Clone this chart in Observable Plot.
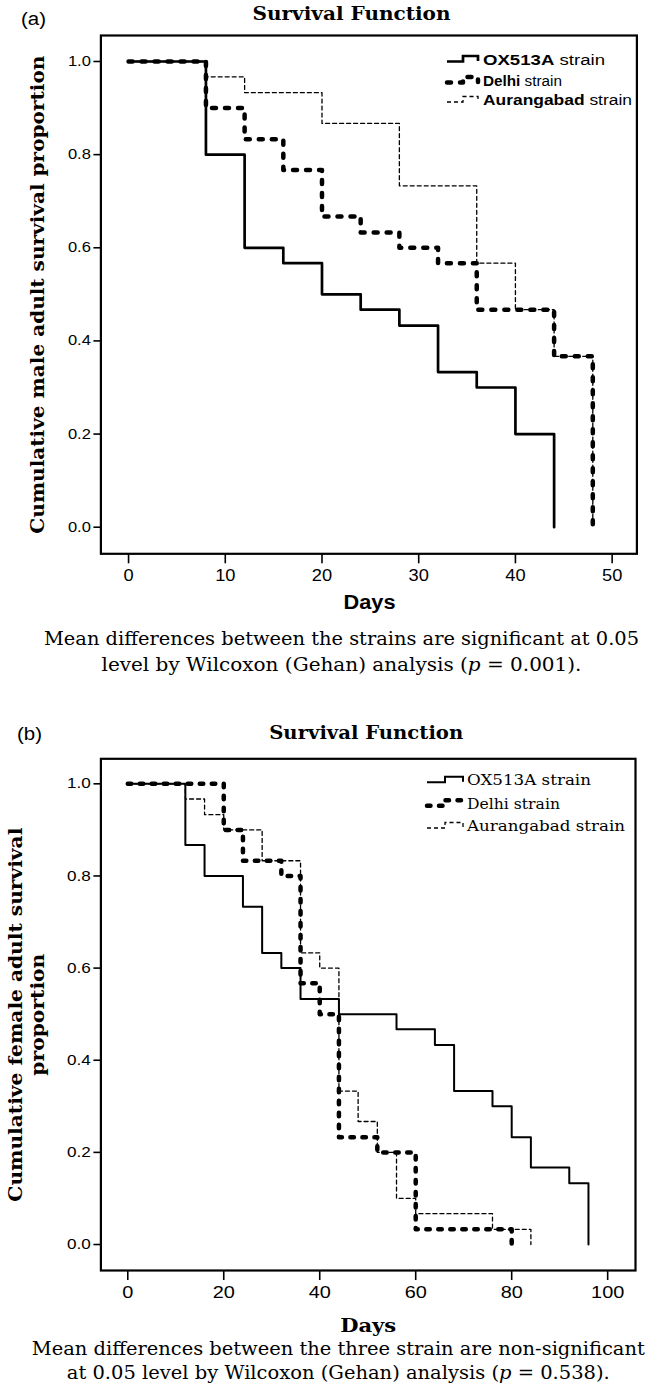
<!DOCTYPE html>
<html>
<head>
<meta charset="utf-8">
<script src="https://cdn.jsdelivr.net/npm/d3@7"></script>
<script src="https://cdn.jsdelivr.net/npm/@observablehq/plot@0.6"></script>
<style>
html, body { margin: 0; padding: 0; background: #fff; }
#chart svg { display: block; }
</style>
</head>
<body>
<div id="chart"></div>
<script>
// ---------------- data ----------------
const strains = ["OX513A", "Delhi", "Aurangabad"];
const yTicks = [0, 0.2, 0.4, 0.6, 0.8, 1.0];
const xTicksMale = [0, 10, 20, 30, 40, 50];
const xTicksFemale = [0, 20, 40, 60, 80, 100];

// (a) males: event day and survival proportion after the event
const maleOxDays   = [0, 8, 12, 16, 20, 24, 28, 32, 36, 40, 44];
const maleOxSurv   = [1, 0.8, 0.6, 0.567, 0.5, 0.467, 0.433, 0.333, 0.3, 0.2, 0];
const maleDelDays  = [0, 8, 12, 16, 20, 24, 28, 32, 36, 44, 48];
const maleDelSurv  = [1, 0.9, 0.833, 0.767, 0.667, 0.633, 0.6, 0.567, 0.467, 0.367, 0];
const maleAurDays  = [0, 8, 12, 20, 28, 36, 40, 44, 48];
const maleAurSurv  = [1, 0.967, 0.933, 0.867, 0.733, 0.567, 0.467, 0.367, 0];

// (b) females
const femOxDays  = [0, 12, 16, 24, 28, 32, 36, 44, 56, 64, 68, 76, 80, 84, 92, 96];
const femOxSurv  = [1, 0.867, 0.8, 0.733, 0.633, 0.6, 0.533, 0.5, 0.467, 0.433, 0.333, 0.3, 0.233, 0.167, 0.133, 0];
const femDelDays = [0, 20, 24, 32, 36, 40, 44, 52, 60, 80];
const femDelSurv = [1, 0.9, 0.833, 0.8, 0.567, 0.5, 0.233, 0.2, 0.033, 0];
const femAurDays = [0, 12, 16, 20, 28, 36, 40, 44, 48, 52, 56, 60, 76, 84];
const femAurSurv = [1, 0.967, 0.933, 0.9, 0.833, 0.633, 0.6, 0.333, 0.267, 0.2, 0.1, 0.067, 0.033, 0];

// texts
const panelTags = ["(a)", "(b)"];
const titleText = "Survival Function";
const xLabelText = "Days";
const yLabelMale = ["Cumulative male adult survival proportion"];
const yLabelFemale = ["Cumulative female adult survival", "proportion"];
const captionMale = ["Mean differences between the strains are significant at 0.05",
                     "level by Wilcoxon (Gehan) analysis (p = 0.001)."];
const captionFemale = ["Mean differences between the three strain are non-significant",
                       "at 0.05 level by Wilcoxon (Gehan) analysis (p = 0.538)."];

// ---------------- helpers ----------------
const SANS = "'Liberation Sans', Arial, Helvetica, sans-serif";
const SERIF = "'DejaVu Serif', 'Liberation Serif', serif";
const NS = "http://www.w3.org/2000/svg";
const toRows = (days, surv) => days.map((d, i) => ({day: d, surv: surv[i]}));

const txt = (s, o) => Plot.text([s], {text: d => d, lineAnchor: "bottom", fill: "black", ...o});

function fit(svg, str, len) {
  for (const t of svg.querySelectorAll("text")) {
    if (t.textContent === str) {
      t.setAttribute("textLength", len);
      t.setAttribute("lengthAdjust", "spacingAndGlyphs");
    }
  }
}
function italicP(svg, str) {
  for (const t of svg.querySelectorAll("text")) {
    if (t.textContent === str) {
      const i = str.indexOf("(p");
      const parts = [[str.slice(0, i + 1), null], ["p", "italic"], [str.slice(i + 2), null]];
      t.textContent = "";
      for (const [s, st] of parts) {
        const ts = document.createElementNS(NS, "tspan");
        ts.textContent = s;
        if (st) ts.setAttribute("font-style", st);
        t.appendChild(ts);
      }
    }
  }
}
function tuneAxis(svg, prefix, fontSize, factor) {
  for (const g of svg.querySelectorAll(`[aria-label^="${prefix}"]`)) {
    for (const t of g.querySelectorAll("text")) {
      t.style.fontSize = fontSize + "px";
      t.style.fontFamily = SANS;
      const w = t.getComputedTextLength();
      t.setAttribute("textLength", w * factor);
      t.setAttribute("lengthAdjust", "spacingAndGlyphs");
    }
    for (const p of g.querySelectorAll("path, line")) p.setAttribute("stroke-width", 1.6);
  }
}
function addLegend(svg, items, geo) {
  const g = d3.select(svg).append("g").attr("class", "legend").attr("text-anchor", "start");
  items.forEach((it) => {
    const cy = it.cy;
    g.append("path")
      .attr("d", `M${geo.x0},${cy + 2} H${geo.xm} V${cy - 3.5} H${geo.x1} V${cy + 1.5}`)
      .attr("fill", "none").attr("stroke", "black")
      .attr("stroke-width", it.style.strokeWidth)
      .attr("stroke-dasharray", it.style.strokeDasharray || null)
      .attr("stroke-linecap", it.style.strokeLinecap || "butt")
      .attr("stroke-linejoin", it.style.strokeLinejoin || "miter");
    const t = g.append("text")
      .attr("x", geo.tx).attr("y", cy + 5)
      .attr("text-anchor", "start")
      .attr("font-family", geo.font).attr("font-size", geo.size)
      .attr("fill", "black")
      .attr("textLength", it.len).attr("lengthAdjust", "spacingAndGlyphs");
    t.append("tspan").attr("font-weight", geo.boldName ? "bold" : null).text(it.name);
    t.append("tspan").text(" strain");
  });
}

// ---------------- styles ----------------
const styleA = {
  OX513A: {strokeWidth: 2.7},
  Delhi: {strokeWidth: 4.5, strokeDasharray: "4,9", strokeLinecap: "round", strokeLinejoin: "round"},
  Aurangabad: {strokeWidth: 1.3, strokeDasharray: "4,3"}
};
const styleB = {
  OX513A: {strokeWidth: 2},
  Delhi: {strokeWidth: 4.5, strokeDasharray: "3.5,8.5", strokeLinecap: "round", strokeLinejoin: "round"},
  Aurangabad: {strokeWidth: 1.3, strokeDasharray: "4,3"}
};

const lineMark = (rows, st) => Plot.line(rows, {x: "day", y: "surv", curve: "step-after", stroke: "black", ...st});

// ---------------- panel (a) ----------------
const svgA = Plot.plot({
  width: 646, height: 690,
  marginTop: 35, marginRight: 9.6, marginBottom: 136.7, marginLeft: 100.4,
  style: {background: "white", color: "black", fontFamily: SANS, fontSize: "14px", overflow: "visible"},
  x: {domain: [-2.86, 52.56], ticks: xTicksMale, tickFormat: d3.format("d"), tickSize: 10, tickPadding: 6, label: null},
  y: {domain: [-0.0571, 1.0558], ticks: yTicks, tickFormat: d3.format(".1f"), tickSize: 7, tickPadding: 3, label: null},
  marks: [
    Plot.frame({stroke: "black", strokeWidth: 2.2}),
    lineMark(toRows(maleOxDays, maleOxSurv), styleA.OX513A),
    lineMark(toRows(maleAurDays, maleAurSurv), styleA.Aurangabad),
    lineMark(toRows(maleDelDays, maleDelSurv), styleA.Delhi),
    txt(panelTags[0], {frameAnchor: "top-left", dx: -67.4, dy: -11, textAnchor: "middle", fontFamily: SANS, fontSize: 18}),
    txt(titleText, {frameAnchor: "top-left", dx: 250.6, dy: -15.7, textAnchor: "middle", fontFamily: SERIF, fontWeight: "bold", fontSize: 18}),
    txt(yLabelMale[0], {frameAnchor: "left", dx: -57.1, rotate: -90, textAnchor: "middle", fontFamily: SERIF, fontWeight: "bold", fontSize: 19}),
    txt(xLabelText, {frameAnchor: "bottom", dx: 0.6, dy: 55, fontFamily: SANS, fontWeight: "bold", fontSize: 19.5}),
    txt(captionMale[0], {frameAnchor: "bottom", dx: -27.4, dy: 91.2, fontFamily: SERIF, fontSize: 19}),
    txt(captionMale[1], {frameAnchor: "bottom", dx: -27.4, dy: 116.7, fontFamily: SERIF, fontSize: 19})
  ]
});

// ---------------- panel (b) ----------------
const svgB = Plot.plot({
  width: 646, height: 704,
  marginTop: 68.3, marginRight: 11, marginBottom: 124, marginLeft: 100.4,
  style: {background: "white", color: "black", fontFamily: SANS, fontSize: "14px", overflow: "visible"},
  x: {domain: [-5.6, 105.8], ticks: xTicksFemale, tickFormat: d3.format("d"), tickSize: 10, tickPadding: 5, label: null},
  y: {domain: [-0.0564, 1.0543], ticks: yTicks, tickFormat: d3.format(".1f"), tickSize: 7, tickPadding: 3, label: null},
  marks: [
    Plot.frame({stroke: "black", strokeWidth: 2.2}),
    lineMark(toRows(femOxDays, femOxSurv), styleB.OX513A),
    lineMark(toRows(femAurDays, femAurSurv), styleB.Aurangabad),
    lineMark(toRows(femDelDays, femDelSurv), styleB.Delhi),
    txt(panelTags[1], {frameAnchor: "top-left", dx: -71.4, dy: -19.3, textAnchor: "middle", fontFamily: SANS, fontSize: 18}),
    txt(titleText, {frameAnchor: "top-left", dx: 265.3, dy: -20, textAnchor: "middle", fontFamily: SERIF, fontWeight: "bold", fontSize: 18}),
    txt(yLabelFemale[0], {frameAnchor: "left", dx: -79.4, rotate: -90, textAnchor: "middle", fontFamily: SERIF, fontWeight: "bold", fontSize: 19}),
    txt(yLabelFemale[1], {frameAnchor: "left", dx: -57.1, rotate: -90, textAnchor: "middle", fontFamily: SERIF, fontWeight: "bold", fontSize: 19}),
    txt(xLabelText, {frameAnchor: "bottom", dx: 0, dy: 61.7, fontFamily: SERIF, fontWeight: "bold", fontSize: 19}),
    txt(captionFemale[0], {frameAnchor: "bottom", dx: -29.9, dy: 84, fontFamily: SERIF, fontSize: 19}),
    txt(captionFemale[1], {frameAnchor: "bottom", dx: -29.9, dy: 108.3, fontFamily: SERIF, fontSize: 19})
  ]
});

const chart = document.getElementById("chart");
chart.appendChild(svgA);
chart.appendChild(svgB);

// ---------------- finishing touches ----------------
tuneAxis(svgA, "y-axis", 14, 1.18);
tuneAxis(svgA, "x-axis", 16, 1.14);
tuneAxis(svgB, "y-axis", 14.5, 1.18);
tuneAxis(svgB, "x-axis", 17, 1.17);

italicP(svgA, captionMale[1]);
italicP(svgB, captionFemale[1]);

fit(svgA, panelTags[0], 25);
fit(svgA, titleText, 198);
fit(svgA, yLabelMale[0], 478);
fit(svgA, xLabelText, 52);
fit(svgA, captionMale[0], 595);
fit(svgA, captionMale[1], 480);

fit(svgB, panelTags[1], 25);
fit(svgB, titleText, 194);
fit(svgB, yLabelFemale[0], 374);
fit(svgB, yLabelFemale[1], 122);
fit(svgB, xLabelText, 56);
fit(svgB, captionFemale[0], 613);
fit(svgB, captionFemale[1], 543);

addLegend(svgA, [
  {name: strains[0], cy: 59.5, len: 122, style: styleA.OX513A},
  {name: strains[1], cy: 80.5, len: 79, style: styleA.Delhi},
  {name: strains[2], cy: 100, len: 149, style: styleA.Aurangabad}
], {x0: 447, xm: 463, x1: 478, tx: 483, font: SANS, size: 14, boldName: true});

addLegend(svgB, [
  {name: strains[0], cy: 780.3 - 690, len: 124, style: styleB.OX513A},
  {name: strains[1], cy: 803.8 - 690, len: 93, style: styleB.Delhi},
  {name: strains[2], cy: 826 - 690, len: 158, style: styleB.Aurangabad}
], {x0: 427, xm: 445, x1: 463, tx: 467, font: SERIF, size: 14, boldName: false});
</script>
</body>
</html>
